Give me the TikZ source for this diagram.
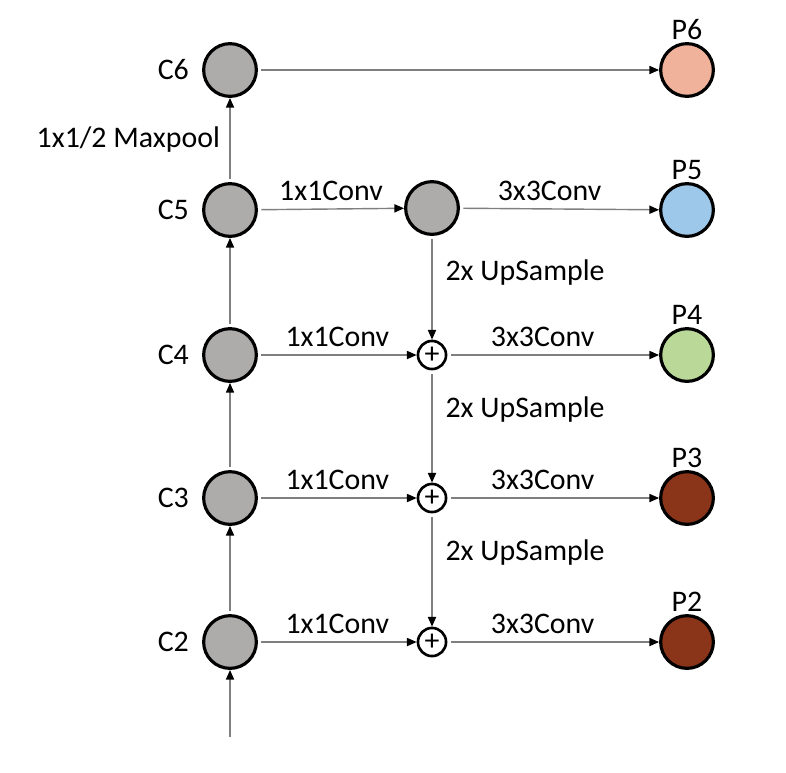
\documentclass[tikz,border=0pt]{standalone}
\usepackage{fontspec}
\setmainfont{Carlito}
\usetikzlibrary{arrows.meta,positioning}

\definecolor{cgray}{HTML}{AEABAB}
\definecolor{lgray}{HTML}{7F7F7F}
\definecolor{psalmon}{HTML}{F0B29B}
\definecolor{pblue}{HTML}{9DC8EA}
\definecolor{pgreen}{HTML}{BAD999}
\definecolor{pbrown}{HTML}{8A3519}

\begin{document}
\begin{tikzpicture}[%
    x=0.02cm, y=-0.02cm,                       % one unit is one pixel of the sketch
    font=\fontsize{17}{20}\selectfont,
    >={Triangle[length=5.5pt,width=4.6pt,color=black]},
    ]
% -------------------------------------------------
% Node and connector styles
\tikzset{
  feat/.style={circle, draw, line width=1.8pt, minimum size=30pt, inner sep=0pt},
  cnode/.style={feat, fill=cgray, label={[label distance=4pt]left:#1}},
  pnode/.style={feat, label={[label distance=-2pt]above:#1}},
  plus/.style={circle, draw, line width=1.5pt, minimum size=16pt, inner sep=0pt},
  conn/.style={->, draw=lgray, line width=0.8pt, shorten <=2pt},
  it/.style={midway, above=1pt}
}
\useasboundingbox (0,0) rectangle (786,772);
% -------------------------------------------------
% Bottom-up pathway
\node [cnode=C6] (c6) at (230,70)  {};
\node [cnode=C5] (c5) at (230,210) {};
\node [cnode=C4] (c4) at (230,355) {};
\node [cnode=C3] (c3) at (230,498) {};
\node [cnode=C2] (c2) at (230,642) {};
\coordinate (in) at (230,740);
% Top-down pathway
\node [feat, fill=cgray] (m5) at (432,208) {};
\node [plus] (s4) at (432,355) {+};
\node [plus] (s3) at (432,498) {+};
\node [plus] (s2) at (432,642) {+};
% Outputs
\node [pnode=P6, fill=psalmon] (p6) at (687,70)  {};
\node [pnode=P5, fill=pblue]   (p5) at (687,210) {};
\node [pnode=P4, fill=pgreen]  (p4) at (687,355) {};
\node [pnode=P3, fill=pbrown]  (p3) at (687,498) {};
\node [pnode=P2, fill=pbrown]  (p2) at (687,642) {};
% -------------------------------------------------
% Connectors
\draw [conn] (in) -- (c2);
\draw [conn] (c2) -- (c3);
\draw [conn] (c3) -- (c4);
\draw [conn] (c4) -- (c5);
\draw [conn] (c5) -- node [midway, left=2pt] {1x1/2 Maxpool} (c6);
\draw [conn] (c6) -- (p6);
\draw [conn] (c5) -- node [it] {1x1Conv} (m5);
\draw [conn] (c4) -- node [it] {1x1Conv} (s4);
\draw [conn] (c3) -- node [it] {1x1Conv} (s3);
\draw [conn] (c2) -- node [it] {1x1Conv} (s2);
\draw [conn] (m5) -- node [it, pos=0.45] {3x3Conv} (p5);
\draw [conn] (s4) -- node [it, pos=0.45] {3x3Conv} (p4);
\draw [conn] (s3) -- node [it, pos=0.45] {3x3Conv} (p3);
\draw [conn] (s2) -- node [it, pos=0.45] {3x3Conv} (p2);
\draw [conn] (m5) -- node [pos=0.35, right=4pt] {2x UpSample} (s4);
\draw [conn] (s4) -- node [pos=0.35, right=4pt] {2x UpSample} (s3);
\draw [conn] (s3) -- node [pos=0.35, right=4pt] {2x UpSample} (s2);
% -------------------------------------------------
\end{tikzpicture}
\end{document}
